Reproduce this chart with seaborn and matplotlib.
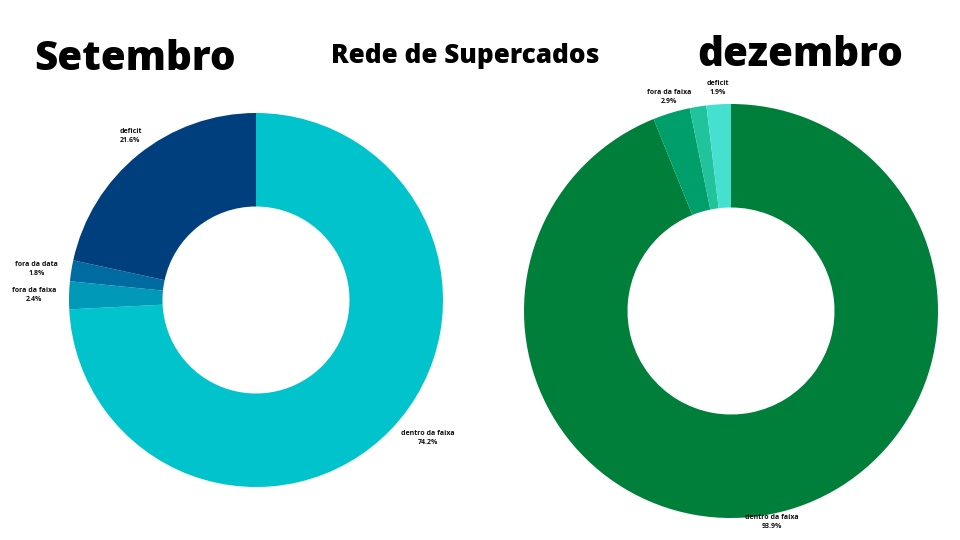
import numpy as np
import matplotlib
matplotlib.use("Agg")
import matplotlib.pyplot as plt
import seaborn as sns

sns.set_theme(style="white")
plt.rcParams['font.family'] = ['Open Sans', 'DejaVu Sans']

categories = ["dentro da faixa", "fora da faixa", "fora da data", "deficit"]
set_values = [74.2, 2.4, 1.8, 21.6]
dez_values = [93.9, 2.9, 1.3, 1.9]
set_colors = ["#00C3CB", "#009AB8", "#006BA0", "#003F7D"]
dez_colors = ["#007F3A", "#009E6A", "#20C39B", "#45E0CF"]
dez_show = [True, True, False, True]

fig = plt.figure(figsize=(9.6, 5.4), dpi=100)
fig.patch.set_facecolor("white")

W, H = 960, 540


def donut(cx, cy, R, values, colors, show, dist):
    ax = fig.add_axes([(cx - R) / W, (H - cy - R) / H, 2 * R / W, 2 * R / H])
    wedges, _ = ax.pie(values, colors=colors, startangle=90, counterclock=False,
                       radius=1.0, wedgeprops=dict(width=0.5, linewidth=0))
    for w, name, v, s in zip(wedges, categories, values, show):
        if not s:
            continue
        ang = np.deg2rad((w.theta1 + w.theta2) / 2)
        c, sn = np.cos(ang), np.sin(ang)
        x, y = dist * c, dist * sn
        if abs(c) < 0.7:
            ha = "center"
        else:
            ha = "left" if c > 0 else "right"
        if abs(sn) < 0.75:
            va = "center"
        else:
            va = "bottom" if sn > 0 else "center"
        ax.text(x, y, f"{name}\n{v:.1f}%", ha=ha, va=va, multialignment="center",
                fontsize=5, fontweight="bold", color="#111111", linespacing=1.35,
                clip_on=False)
    ax.set_xlim(-1, 1)
    ax.set_ylim(-1, 1)
    ax.set_aspect("equal")
    ax.axis("off")
    return ax


donut(256, 300, 187, set_values, set_colors, [True] * 4, 1.07)
donut(731, 311, 207, dez_values, dez_colors, dez_show, 1.04)

fig.text(34 / W, 1 - 59 / H, "Setembro", ha="left", va="center",
         fontsize=29, fontweight="heavy", color="black")
fig.text(465 / W, 1 - 56 / H, "Rede de Supercados", ha="center", va="center",
         fontsize=18.8, fontweight="heavy", color="black")
fig.text(697 / W, 1 - 55 / H, "dezembro", ha="left", va="center",
         fontsize=29, fontweight="heavy", color="black")

fig.savefig("out.png", dpi=100, facecolor="white")
